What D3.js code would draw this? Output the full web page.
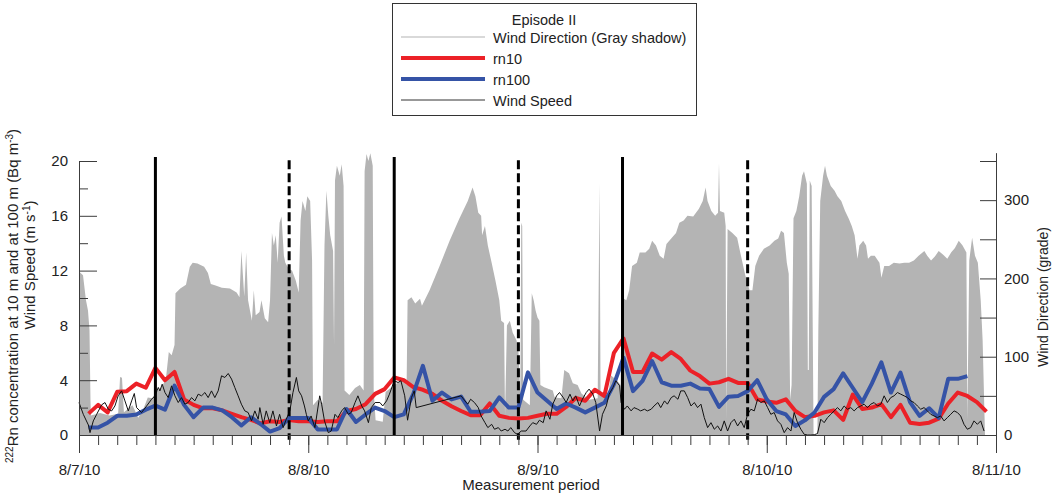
<!DOCTYPE html>
<html>
<head>
<meta charset="utf-8">
<script src="https://cdn.jsdelivr.net/npm/d3@7"></script>
<style>
  html, body { margin: 0; padding: 0; background: #fff; }
  svg { display: block; font-family: "Liberation Sans", Arial, sans-serif; }
</style>
</head>
<body>
<svg id="chart" width="1052" height="496"></svg>
<script>
// ---- Episode II: 7-11 August 2010 (hours counted from 8/7/10 00:00) ----

// 222Rn concentration at 10 m, hourly (hours 1..95)
const rn10 = [1.56, 2.2, 1.65, 3.15, 3.2, 3.75, 3.45, 4.9, 4.0, 4.6,
  2.6, 2.2, 1.95, 1.95, 1.8, 1.55, 1.3, 1.1, 0.85, 1.0,
  0.95, 1.1, 1.0, 1.0, 0.95, 1.0, 1.0, 1.75, 1.9, 2.25,
  3.0, 3.35, 4.2, 4.0, 3.5, 3.3, 3.0, 2.5, 2.1, 1.75,
  1.45, 1.45, 2.3, 1.4, 1.25, 1.2, 1.25, 1.4, 1.55, 1.55,
  2.05, 2.7, 2.5, 3.3, 2.85, 6.0, 7.05, 4.6, 4.6, 5.95,
  5.5, 6.05, 5.55, 4.7, 4.3, 3.75, 3.85, 4.1, 3.8, 3.8,
  2.6, 2.45, 2.35, 2.6, 1.75, 1.3, 1.4, 1.65, 1.8, 1.1,
  2.95, 1.9, 2.0, 2.25, 1.3, 2.2, 0.9, 0.8, 0.9, 1.2,
  2.3, 3.1, 2.85, 2.4, 1.7];

// 222Rn concentration at 100 m, hourly (hours 1..93)
const rn100 = [0.55, 0.55, 0.9, 1.4, 1.4, 1.5, 1.85, 2.15, 1.85, 3.6,
  2.2, 1.3, 2.0, 2.0, 1.8, 1.3, 0.7, 1.3, 0.8, 0.25,
  0.5, 1.25, 1.25, 1.25, 0.4, 0.4, 0.4, 1.9, 0.95, 1.5,
  2.0, 1.75, 1.3, 1.5, 3.0, 5.05, 2.5, 3.1, 2.6, 2.8,
  1.7, 1.7, 1.75, 2.75, 2.0, 2.0, 4.57, 3.1, 2.5, 1.9,
  2.3, 2.0, 1.65, 2.0, 2.35, 3.7, 5.65, 3.2, 3.95, 5.4,
  3.85, 3.6, 3.6, 3.75, 3.4, 3.35, 2.05, 2.8, 2.85, 3.2,
  4.0, 2.6, 1.75, 1.5, 0.66, 1.07, 1.64, 2.78, 3.35, 4.5,
  3.45, 2.4, 3.75, 5.3, 3.1, 4.55, 2.4, 1.4, 1.95, 1.25,
  4.1, 4.1, 4.3];

// Wind speed (m/s): observation hour and value
const windSpeedHours = [0, 0.45, 0.98, 1.15, 1.5, 1.85, 2.37, 2.72, 3.07, 3.42, 3.76, 4.1, 4.46, 4.81, 5.16, 5.51, 5.79, 6.03, 6.55, 7.08,
  7.6, 7.95, 8.3, 8.47, 8.71, 9.0, 9.34, 9.69, 10.04, 10.39, 10.73, 11.08, 11.43, 11.78, 12.13, 12.48, 12.83, 13.18, 13.52, 13.87,
  14.22, 14.57, 14.92, 15.27, 15.62, 15.97, 16.31, 16.66, 17.0, 17.36, 17.71, 18.06, 18.41, 18.76, 18.93, 19.28, 19.6, 19.97, 20.3, 20.67,
  21.0, 21.37, 21.7, 22.07, 22.4, 22.76, 23.0, 23.3, 23.6, 23.8, 24.0, 24.3, 24.7, 25.2, 25.4, 25.7, 26.1, 26.4, 26.8, 27.1,
  27.5, 27.8, 28.2, 28.5, 28.9, 29.2, 29.6, 29.9, 30.3, 30.6, 31.0, 31.5, 31.8, 32.2, 32.5, 33.0, 33.4, 33.7, 34.1, 34.4,
  34.8, 35.1, 35.3, 40.0, 40.4, 40.7, 41.0, 41.4, 41.8, 42.1, 42.5, 42.8, 43.2, 43.5, 43.9, 44.2, 44.6, 44.9, 45.2, 45.6,
  45.9, 46.3, 46.8, 47.2, 47.5, 47.9, 48.2, 48.6, 48.9, 49.3, 49.6, 50.0, 50.3, 50.7, 51.0, 51.4, 51.7, 52.0, 52.4, 52.7,
  53.1, 53.4, 53.8, 54.1, 54.5, 54.8, 55.2, 55.5, 55.9, 56.2, 56.6, 56.75, 57.1, 57.4, 57.8, 58.1, 58.5, 58.8, 59.2, 59.5,
  59.9, 60.2, 60.6, 60.9, 61.3, 61.6, 62.0, 62.3, 62.7, 63.0, 63.37, 63.72, 64.07, 64.42, 64.76, 65.11, 65.46, 65.81, 66.16, 66.51,
  66.86, 67.2, 67.55, 67.9, 68.25, 68.6, 68.95, 69.3, 69.64, 69.99, 70.34, 70.69, 71.04, 71.39, 71.74, 72.09, 72.43, 72.78, 73.13, 73.48,
  73.83, 74.18, 74.53, 74.87, 75.22, 75.57, 75.92, 76.27, 76.62, 76.97, 77.31, 77.66, 78.01, 78.36, 78.71, 79.06, 79.41, 79.75, 80.1, 80.45,
  80.8, 81.15, 81.5, 81.85, 82.19, 82.54, 82.89, 83.24, 83.59, 83.94, 84.29, 84.63, 84.98, 85.33, 85.68, 86.03, 86.38, 86.73, 87.07, 87.42,
  87.77, 88.12, 88.47, 88.82, 89.17, 89.52, 89.86, 90.21, 90.56, 90.91, 91.26, 91.61, 91.96, 92.3, 92.65, 93.0, 93.35, 93.7, 94.05, 94.4,
  94.75];
const windSpeed = [2.37, 1.51, 0.73, 0.17, 1.03, 1.51, 2.2, 2.37, 1.88, 1.76, 2.12, 2.86, 3.22, 2.49, 1.76, 2.49, 3.03, 2.0, 1.64, 2.12,
  2.61, 2.86, 3.47, 3.22, 3.71, 3.1, 2.73, 3.59, 2.86, 2.37, 2.73, 2.25, 2.37, 2.73, 2.49, 2.98, 2.86, 3.1, 2.73, 3.22,
  2.73, 3.22, 4.32, 4.2, 4.49, 4.08, 3.47, 2.86, 2.25, 1.76, 1.64, 1.03, 1.76, 1.15, 2.0, 0.78, 1.76, 0.9, 1.76, 0.66,
  1.51, 0.54, 1.15, 1.76, 3.1, 4.2, 3.22, 2.86, 2.12, 1.51, 1.03, 1.39, 0.54, 2.86, 2.25, 1.03, 0.17, 0.29, 1.51, 1.27,
  1.76, 2.0, 1.51, 1.64, 2.37, 2.86, 2.12, 1.76, 0.9, 2.0, 2.37, 2.37, 2.12, 2.49, 2.98, 3.96, 3.83, 3.96, 2.86, 1.08,
  2.73, 3.22, 2.0, 2.86, 2.49, 2.25, 2.61, 2.37, 2.0, 1.39, 0.9, 0.54, 0.78, 0.42, 0.54, 0.29, 0.42, 0.29, 0.54, 0.17,
  0.05, 0.29, 0.29, 0.66, 0.9, 0.78, 1.08, 0.9, 1.76, 1.15, 2.25, 2.86, 3.1, 2.73, 2.37, 2.98, 2.49, 2.86, 2.12, 2.61,
  3.1, 3.35, 2.98, 2.37, 0.29, 1.51, 2.12, 2.98, 3.47, 3.96, 3.59, 2.37, 1.88, 2.12, 1.76, 2.0, 1.88, 1.76, 1.88, 1.76,
  1.88, 2.12, 2.37, 2.0, 2.49, 2.25, 2.73, 2.86, 2.61, 3.22, 3.22, 2.73, 2.12, 2.37, 2.0, 2.25, 1.27, 0.54, 0.9, 0.42,
  0.66, 0.29, 1.03, 0.29, 0.9, 1.15, 0.66, 1.03, 0.54, 1.51, 1.88, 1.76, 2.61, 2.37, 2.49, 2.0, 1.51, 1.64, 1.03, 0.78,
  0.17, 0.54, 0.29, 1.64, 0.9, 0.42, 0.05, 0.0, 0.0, 0.02, 0.1, 1.15, 0.9, 1.27, 1.51, 1.76, 2.0, 1.76, 2.12, 1.88,
  2.0, 1.76, 2.0, 2.12, 2.25, 2.0, 2.25, 2.37, 2.12, 2.25, 2.86, 2.37, 2.73, 2.86, 3.1, 2.98, 2.86, 2.73, 2.49, 2.37,
  2.12, 1.88, 2.0, 1.76, 1.51, 1.39, 1.27, 1.39, 1.03, 1.27, 1.51, 1.76, 1.64, 1.39, 0.78, 0.42, 0.54, 1.03, 0.78, 1.03,
  0.29];

// Wind direction (grade): observation hour and value
const windDirHours = [0, 0.42, 0.73, 0.94, 1.1, 1.2, 1.25, 2.2, 3.2, 4.1, 4.3, 4.5, 4.7, 5.6, 6.2, 6.7, 7.2, 7.7, 8.05, 8.7,
  9.1, 9.4, 9.7, 10.0, 10.1, 10.6, 11.2, 11.6, 11.9, 12.4, 13.1, 13.5, 13.8, 14.3, 14.95, 15.8, 16.5, 16.8, 17.0, 17.3,
  17.5, 17.7, 18.1, 18.3, 18.5, 18.9, 19.1, 19.45, 19.8, 20.0, 20.2, 20.4, 20.6, 20.8, 21.0, 21.2, 21.45, 21.6, 21.96, 22.3,
  22.7, 23.0, 23.2, 23.4, 23.7, 23.9, 24.2, 24.4, 24.5, 25.0, 25.5, 25.7, 25.9, 26.1, 26.3, 26.6, 26.7, 26.8, 27.0, 27.3,
  27.5, 27.7, 27.8, 28.3, 28.9, 29.4, 29.8, 29.9, 30.1, 30.3, 30.5, 30.75, 30.85, 31.05, 31.8, 32.1, 33.0, 33.8, 34.3, 34.4,
  34.8, 35.2, 35.7, 35.9, 36.7, 37.75, 38.8, 39.8, 40.7, 41.2, 41.5, 41.8, 42.1, 42.2, 42.5, 42.8, 43.2, 43.6, 44.0, 44.2,
  44.5, 44.6, 44.8, 45.1, 45.4, 45.8, 46.0, 46.2, 46.3, 46.4, 46.5, 47.2, 47.4, 47.6, 47.8, 48.0, 48.2, 48.3, 48.7, 49.6,
  49.8, 50.5, 50.8, 51.3, 51.7, 52.2, 52.6, 53.4, 54.3, 54.5, 54.6, 55.3, 55.7, 56.3, 56.7, 56.8, 57.3, 57.6, 57.9, 58.4,
  58.7, 59.3, 59.7, 60.0, 60.4, 60.8, 61.2, 61.5, 62.0, 62.5, 62.85, 63.3, 63.7, 64.3, 64.9, 65.3, 65.6, 65.8, 66.2, 66.6,
  66.9, 67.0, 67.1, 67.55, 67.7, 67.75, 67.9, 68.4, 68.9, 69.3, 69.75, 70.2, 70.5, 70.8, 71.2, 71.7, 72.3, 72.8, 73.2, 73.5,
  73.8, 74.1, 74.3, 74.45, 74.6, 74.8, 75.1, 75.4, 75.7, 75.9, 76.2, 76.3, 76.4, 76.5, 76.7, 76.9, 77.3, 77.4, 77.6, 77.9,
  78.1, 78.3, 78.7, 79.1, 79.4, 79.8, 80.2, 80.6, 80.9, 81.2, 81.5, 81.7, 82.1, 82.4, 82.6, 82.9, 83.3, 83.8, 84.0, 84.3,
  84.8, 85.3, 85.9, 86.4, 86.9, 87.4, 87.9, 88.5, 88.8, 89.2, 89.6, 90.0, 90.5, 90.9, 91.3, 91.7, 92.1, 92.5, 92.9, 93.0,
  93.2, 93.5, 93.8, 94.1, 94.4, 94.6, 94.85];
const windDir = [209, 204, 172, 159, 134, 45, 25, 28, 25, 27, 74, 73, 29, 38, 22, 32, 48, 47, 55, 62,
  72, 106, 102, 115, 181, 187, 192, 215, 220, 219, 215, 207, 193, 191, 188, 187, 182, 176, 235, 177,
  233, 172, 146, 185, 153, 157, 172, 149, 144, 172, 258, 242, 255, 220, 271, 279, 229, 220, 212, 210,
  197, 182, 274, 299, 286, 305, 299, 223, 38, 45, 41, 242, 312, 280, 255, 235, 115, 325, 344, 331,
  346, 318, 57, 51, 60, 64, 57, 337, 359, 350, 360, 344, 57, 19, 17, 55, 64, 70, 64, 172,
  176, 168, 174, 165, 185, 216, 248, 276, 299, 316, 305, 284, 280, 255, 267, 242, 220, 197, 172, 146,
  143, 25, 140, 146, 131, 121, 108, 51, 271, 267, 45, 38, 181, 172, 159, 150, 146, 64, 61, 57,
  48, 47, 83, 79, 66, 64, 53, 45, 47, 322, 51, 45, 76, 70, 64, 176, 172, 185, 216, 220,
  233, 233, 238, 248, 242, 229, 225, 244, 251, 258, 271, 274, 280, 279, 289, 299, 316, 299, 286, 280,
  284, 347, 286, 284, 267, 19, 263, 258, 252, 229, 204, 185, 185, 216, 229, 238, 242, 248, 251, 261,
  258, 220, 206, 45, 64, 277, 286, 305, 331, 337, 321, 83, 83, 325, 318, 0, 0, 134, 299, 331,
  344, 331, 318, 312, 305, 299, 286, 276, 267, 255, 225, 242, 248, 242, 225, 229, 229, 220, 201, 216,
  216, 220, 219, 220, 220, 223, 229, 235, 229, 223, 228, 235, 230, 225, 233, 239, 248, 242, 233, 19,
  223, 252, 229, 220, 172, 121, 0];

// Morning (solid) and evening (dashed) reference times, hours
const solidMarks = [8, 33, 56.9];
const dashedMarks = [22, 46, 70];

// Axis ticks
const leftMajorTicks = [0, 4, 8, 12, 16, 20];
const leftMinorTicks = [2, 6, 10, 14, 18];
const rightMajorTicks = [0, 100, 200, 300];
const rightMinorTicks = [50, 150, 250, 350];

const legendTitle = "Episode II";
const legendItems = ["Wind Direction (Gray shadow)", "rn10", "rn100", "Wind Speed"];

// ---------------------------------------------------------------------
const t0 = Date.UTC(2010, 7, 7);
const toDate = h => new Date(t0 + h * 3600e3);

const svg = d3.select("#chart");
const axisColor = "#3c3c3c";
const textColor = "#222";

const x = d3.scaleUtc()
  .domain([toDate(0), toDate(96)])
  .range([79, 996]);
const yL = d3.scaleLinear().domain([0, 20]).range([435, 161]);
const yR = d3.scaleLinear().domain([0, 350]).range([435, 161]);

// wind direction shadow
const dirData = windDirHours.map((h, i) => ({ t: toDate(h), v: windDir[i] }));
svg.append("path")
  .datum(dirData)
  .attr("fill", "#b4b4b4")
  .attr("d", d3.area().x(d => x(d.t)).y0(yR(0)).y1(d => yR(d.v)));

// radon series and wind speed
const line = d3.line().x(d => x(d.t)).y(d => yL(d.v));
const rn10Data = rn10.map((v, i) => ({ t: toDate(i + 1), v }));
const rn100Data = rn100.map((v, i) => ({ t: toDate(i + 1), v }));
const wsData = windSpeedHours.map((h, i) => ({ t: toDate(h), v: windSpeed[i] }));

svg.append("path").datum(rn10Data)
  .attr("fill", "none").attr("stroke", "#ec2127").attr("stroke-width", 4)
  .attr("stroke-linejoin", "round").attr("d", line);
svg.append("path").datum(rn100Data)
  .attr("fill", "none").attr("stroke", "#3553a6").attr("stroke-width", 4)
  .attr("stroke-linejoin", "round").attr("d", line);
svg.append("path").datum(wsData)
  .attr("fill", "none").attr("stroke", "#111").attr("stroke-width", 1)
  .attr("d", line);

// reference time markers
svg.selectAll(".solid-mark").data(solidMarks).join("line")
  .attr("x1", d => x(toDate(d))).attr("x2", d => x(toDate(d)))
  .attr("y1", yL(20.3)).attr("y2", yL(0))
  .attr("stroke", "#000").attr("stroke-width", 3);
svg.selectAll(".dashed-mark").data(dashedMarks).join("line")
  .attr("x1", d => x(toDate(d))).attr("x2", d => x(toDate(d)))
  .attr("y1", yL(20.05)).attr("y2", yL(-0.35))
  .attr("stroke", "#000").attr("stroke-width", 3)
  .attr("stroke-dasharray", "9,4");

// axes
function styleAxis(g) {
  g.selectAll("path.domain").attr("stroke", axisColor);
  g.selectAll(".tick line").attr("stroke", axisColor);
  g.selectAll(".tick text").attr("fill", textColor)
    .style("font-size", "15px").style("font-family", '"Liberation Sans", Arial, sans-serif');
}

// left axis (ticks point into the plot)
const gLeft = svg.append("g").attr("transform", "translate(79,0)");
gLeft.call(d3.axisLeft(yL).tickValues(leftMajorTicks).tickSizeInner(-18).tickSizeOuter(0).tickPadding(11));
gLeft.append("g").call(d3.axisLeft(yL).tickValues(leftMinorTicks).tickSizeInner(-9).tickSizeOuter(0).tickFormat(""))
  .select("path.domain").remove();
styleAxis(gLeft);

// right axis
const gRight = svg.append("g").attr("transform", "translate(996,0)");
gRight.call(d3.axisRight(yR).tickValues(rightMajorTicks).tickSizeInner(-16).tickSizeOuter(0).tickPadding(8));
gRight.append("g").call(d3.axisRight(yR).tickValues(rightMinorTicks).tickSizeInner(-16).tickSizeOuter(0).tickFormat(""))
  .select("path.domain").remove();
gRight.select("path.domain").remove();
gRight.append("line").attr("x1", 0.5).attr("x2", 0.5).attr("y1", yR(360)).attr("y2", yR(0))
  .attr("stroke", axisColor);
styleAxis(gRight);

// bottom axis
const gBottom = svg.append("g").attr("transform", "translate(0,435)");
gBottom.call(d3.axisBottom(x).ticks(d3.utcDay.every(1)).tickSizeInner(18).tickSizeOuter(0).tickPadding(11)
  .tickFormat(d3.utcFormat("%-m/%-d/%y")));
gBottom.append("g").call(d3.axisBottom(x).ticks(d3.utcHour.every(2)).tickSizeInner(10).tickSizeOuter(0).tickFormat(""))
  .select("path.domain").remove();
styleAxis(gBottom);

// axis titles
svg.append("text")
  .attr("x", 531).attr("y", 490).attr("text-anchor", "middle")
  .attr("fill", textColor).style("font-size", "15px")
  .text("Measurement period");

const leftTitle1 = svg.append("text")
  .attr("transform", "translate(18,296) rotate(-90)")
  .attr("text-anchor", "middle").attr("fill", textColor).style("font-size", "15px");
leftTitle1.append("tspan").attr("baseline-shift", "super").style("font-size", "10px").text("222");
leftTitle1.append("tspan").text("Rn concentration at 10 m and at 100 m (Bq m");
leftTitle1.append("tspan").attr("baseline-shift", "super").style("font-size", "10px").text("-3");
leftTitle1.append("tspan").text(")");

const leftTitle2 = svg.append("text")
  .attr("transform", "translate(35,265) rotate(-90)")
  .attr("text-anchor", "middle").attr("fill", textColor).style("font-size", "15px");
leftTitle2.append("tspan").text("Wind Speed (m s");
leftTitle2.append("tspan").attr("baseline-shift", "super").style("font-size", "10px").text("-1");
leftTitle2.append("tspan").text(")");

svg.append("text")
  .attr("transform", "translate(1048,297) rotate(-90)")
  .attr("text-anchor", "middle").attr("fill", textColor).style("font-size", "14px")
  .text("Wind Direction (grade)");

// legend
const lg = svg.append("g");
lg.append("rect").attr("x", 392.5).attr("y", 3.5).attr("width", 304).attr("height", 112)
  .attr("fill", "#fff").attr("stroke", "#333").attr("stroke-width", 1);
lg.append("text").attr("x", 544).attr("y", 25).attr("text-anchor", "middle")
  .attr("fill", textColor).style("font-size", "14.5px").text(legendTitle);
const legendStyles = [
  { stroke: "#cccccc", width: 1.5 },
  { stroke: "#ec2127", width: 4 },
  { stroke: "#3553a6", width: 4 },
  { stroke: "#333", width: 1 }
];
const rows = lg.selectAll(".row").data(legendItems).join("g")
  .attr("transform", (d, i) => `translate(0,${37 + i * 21})`);
rows.append("line").attr("x1", 401).attr("x2", 485).attr("y1", 0).attr("y2", 0)
  .attr("stroke", (d, i) => legendStyles[i].stroke)
  .attr("stroke-width", (d, i) => legendStyles[i].width);
rows.append("text").attr("x", 493).attr("y", 5.5)
  .attr("fill", textColor).style("font-size", "14.5px").text(d => d);
</script>
</body>
</html>
